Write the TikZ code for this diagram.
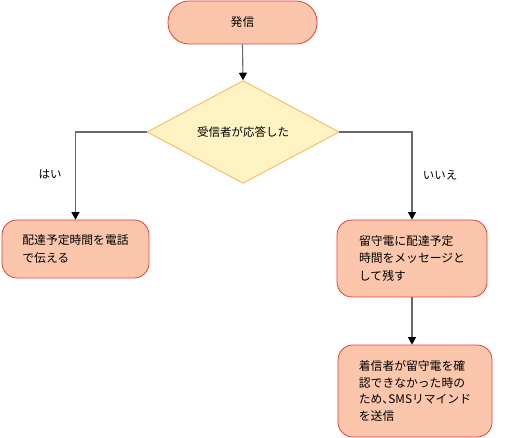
\documentclass[tikz,border=0pt]{standalone}
\usepackage{fontspec}
\setmainfont{Noto Sans CJK JP}
\usetikzlibrary{shapes.geometric,arrows.meta}
\definecolor{boxfill}{RGB}{251,198,172}
\definecolor{boxline}{RGB}{232,64,60}
\definecolor{dfill}{RGB}{255,243,196}
\definecolor{dline}{RGB}{255,180,80}
\definecolor{conn}{RGB}{105,105,105}
\tikzset{
  termbox/.style={draw=boxline, fill=boxfill, line width=0.8pt, rounded corners=15pt, align=left, inner sep=0pt, font=\fontsize{11.8}{17.5}\selectfont},
  decbox/.style={diamond, draw=dline, fill=dfill, line width=0.8pt, inner sep=0pt, font=\fontsize{11.5}{14}\selectfont},
  conn/.style={draw=conn, line width=1.1pt, -{Triangle[width=8pt,length=7.5pt,color=black]}},
  lbl/.style={font=\fontsize{11.5}{14}\selectfont}
}
\begin{document}
\begin{tikzpicture}[x=1pt,y=-1pt]
\useasboundingbox (0,0) rectangle (522,438);
\node[termbox, rounded corners=21pt, minimum width=149pt, minimum height=43pt] (start) at (242.5,22.5) {発信};
\node[decbox, minimum width=192pt, minimum height=80pt] (q) at (243,132) {受信者が応答した};
\node[termbox, minimum width=147pt, minimum height=58pt] (yes) at (75.5,249) {配達予定時間を電話\\で伝える};
\node[termbox, minimum width=150pt, minimum height=77pt] (no) at (412,258.5) {留守電に配達予定\\時間をメッセージと\\して残す};
\node[termbox, font=\fontsize{11.8}{16.5}\selectfont, minimum width=154pt, minimum height=92pt] (sms) at (415,391) {着信者が留守電を確\\認できなかった時の\\ため､SMSリマインド\\を送信};
\node[lbl] (lyes) at (50,174) {はい};
\node[lbl] (lno) at (440,175) {いいえ};
\draw[conn] (start.south) -- (q.north);
\draw[conn] (q.west) -| (yes.north);
\draw[conn] (q.east) -| (no.north);
\draw[conn] (no.south) -- (no.south |- sms.north);
\end{tikzpicture}
\end{document}
